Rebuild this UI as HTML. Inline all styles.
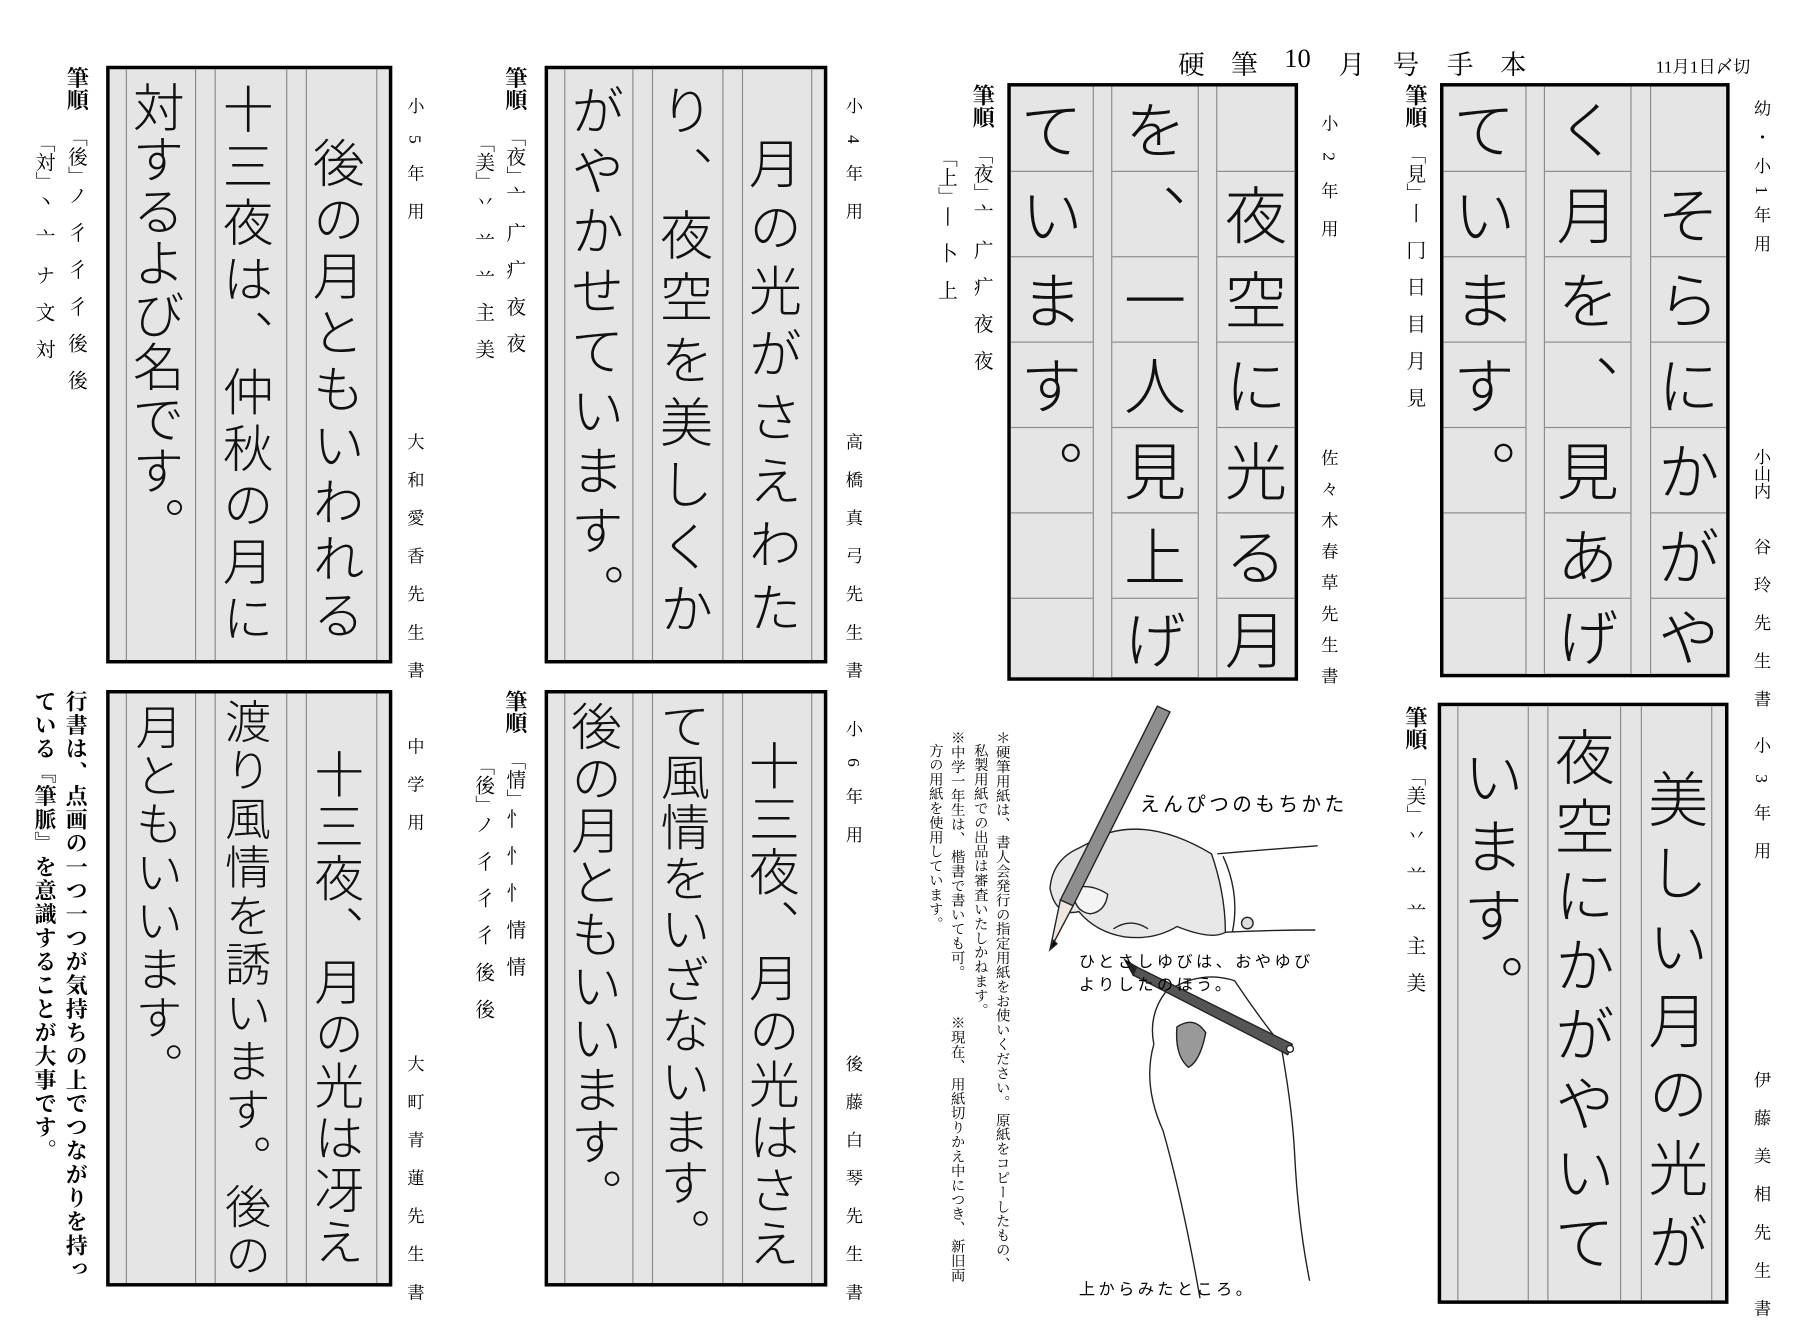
<!DOCTYPE html>
<html><head><meta charset="utf-8">
<style>
html,body{margin:0;padding:0;background:#fff;width:1800px;height:1314px;overflow:hidden}
#c{position:absolute;left:0;top:0;width:1560px;height:1139px;transform-origin:0 0;transform:scale(1.153846);font-family:"Liberation Serif","Noto Serif CJK SC","Noto Sans CJK JP",serif;color:#000}
.box{position:absolute;background:#e5e5e5;border:3px solid #000;box-sizing:border-box}
.vl{position:absolute;top:0;bottom:0;width:0;border-left:1px solid #8a8a8a}
.col{position:absolute;writing-mode:vertical-rl;font-family:"Noto Sans CJK JP","WenQuanYi Zen Hei",sans-serif;font-weight:300;line-height:1;white-space:nowrap;color:#111}
.lab{position:absolute;writing-mode:vertical-rl;font-size:15px;line-height:1;white-space:nowrap;font-family:"Liberation Serif","Noto Serif CJK SC",serif}
.so{position:absolute;writing-mode:vertical-rl;font-size:17px;line-height:1;white-space:nowrap;font-family:"Liberation Serif","Noto Serif CJK SC",serif}
.so b{font-size:19px;display:inline-block;margin-bottom:14px}
.so i{font-style:normal;letter-spacing:15px}
.note{position:absolute;writing-mode:vertical-rl;font-size:12.5px;line-height:1;white-space:nowrap;font-family:"Liberation Serif","Noto Serif CJK SC",serif}
.cell{position:absolute;box-sizing:border-box;border-bottom:1px solid #8a8a8a;display:flex;align-items:center;justify-content:center;font-family:"Noto Sans CJK JP","WenQuanYi Zen Hei",sans-serif;font-weight:300;font-size:54px;writing-mode:vertical-rl;color:#111}
.gap{position:absolute;top:0;bottom:0;background:#e5e5e5;border-left:1px solid #8a8a8a;border-right:1px solid #8a8a8a;box-sizing:border-box}
.hw{position:absolute;font-family:"Noto Sans CJK JP",sans-serif;font-size:16px;letter-spacing:3px;white-space:nowrap}
.h{position:absolute;top:38px;font-size:23px;white-space:nowrap}
</style></head><body><div id="c">

<!-- header -->
<div class="h" style="left:1021px">硬</div>
<div class="h" style="left:1067px">筆</div>
<div class="h" style="left:1113px">10</div>
<div class="h" style="left:1160px">月</div>
<div class="h" style="left:1207px">号</div>
<div class="h" style="left:1254px">手</div>
<div class="h" style="left:1300px">本</div>
<div style="position:absolute;left:1435px;top:47px;font-size:15px;white-space:nowrap">11月1日〆切</div>

<!-- B4 小4 -->
<div class="box" style="left:472px;top:57px;width:245px;height:518px">
 <div class="vl" style="left:14px"></div><div class="vl" style="left:73px"></div><div class="vl" style="left:90px"></div><div class="vl" style="left:151px"></div><div class="vl" style="left:168px"></div><div class="vl" style="left:228px"></div>
 <div class="col" style="left:174px;top:58px;font-size:46px;letter-spacing:9px">月の光がさえわた</div>
 <div class="col" style="left:97px;top:12px;font-size:46px;letter-spacing:8px">り、夜空を美しくか</div>
 <div class="col" style="left:20px;top:12px;font-size:46px;letter-spacing:6px">がやかせています。</div>
</div>
<div class="lab" style="left:731px;top:84px;letter-spacing:18px">小4年用</div>
<div class="lab" style="left:731px;top:375px;letter-spacing:18px">高橋真弓先生書</div>
<div class="so" style="left:436px;top:58px"><b>筆順</b>「夜」<i>亠广疒夜夜</i></div>
<div class="so" style="left:410px;top:115px">「美」<i>丷䒑䒑主美</i></div>

<!-- B5 小5 -->
<div class="box" style="left:92px;top:57px;width:248px;height:518px">
 <div class="vl" style="left:14px"></div><div class="vl" style="left:74px"></div><div class="vl" style="left:91px"></div><div class="vl" style="left:153px"></div><div class="vl" style="left:170px"></div><div class="vl" style="left:231px"></div>
 <div class="col" style="left:176px;top:58px;font-size:45px;letter-spacing:4px">後の月ともいわれる</div>
 <div class="col" style="left:98px;top:12px;font-size:44px;letter-spacing:5px">十三夜は、仲秋の月に</div>
 <div class="col" style="left:20px;top:10px;font-size:45px;letter-spacing:0px">対するよび名です。</div>
</div>
<div class="lab" style="left:351px;top:84px;letter-spacing:18px">小5年用</div>
<div class="lab" style="left:351px;top:375px;letter-spacing:18px">大和愛香先生書</div>
<div class="so" style="left:56px;top:58px"><b>筆順</b>「後」<i>ノ彳彳彳後後</i></div>
<div class="so" style="left:29px;top:115px">「対」<i>丶亠ナ文対</i></div>

<!-- B6 小6 -->
<div class="box" style="left:472px;top:598px;width:245px;height:517px">
 <div class="vl" style="left:14px"></div><div class="vl" style="left:73px"></div><div class="vl" style="left:90px"></div><div class="vl" style="left:151px"></div><div class="vl" style="left:168px"></div><div class="vl" style="left:228px"></div>
 <div class="col" style="left:174px;top:40px;font-size:44px;letter-spacing:2px">十三夜、月の光はさえ</div>
 <div class="col" style="left:97px;top:6px;font-size:43px;letter-spacing:1px">て風情をいざないます。</div>
 <div class="col" style="left:20px;top:6px;font-size:44px;letter-spacing:1px">後の月ともいいます。</div>
</div>
<div class="lab" style="left:731px;top:624px;letter-spacing:18px">小6年用</div>
<div class="lab" style="left:731px;top:914px;letter-spacing:18px">後藤白琴先生書</div>
<div class="so" style="left:436px;top:598px"><b>筆順</b>「情」<i>忄忄忄情情</i></div>
<div class="so" style="left:410px;top:655px">「後」<i>ノ彳彳彳後後</i></div>

<!-- B7 中学 -->
<div class="box" style="left:92px;top:598px;width:248px;height:517px">
 <div class="vl" style="left:14px"></div><div class="vl" style="left:74px"></div><div class="vl" style="left:91px"></div><div class="vl" style="left:153px"></div><div class="vl" style="left:170px"></div><div class="vl" style="left:231px"></div>
 <div class="col" style="left:177px;top:48px;font-size:43px;letter-spacing:2px">十三夜、月の光は冴え</div>
 <div class="col" style="left:100px;top:4px;font-size:40px;letter-spacing:2px">渡り風情を誘います。後の</div>
 <div class="col" style="left:22px;top:8px;font-size:41px;letter-spacing:1px">月ともいいます。</div>
</div>
<div class="lab" style="left:351px;top:639px;letter-spacing:18px">中学用</div>
<div class="lab" style="left:351px;top:914px;letter-spacing:18px">大町青蓮先生書</div>
<div class="so" style="left:55px;top:598px;font-size:19px;font-weight:bold;letter-spacing:1.5px">行書は、点画の一つ一つが気持ちの上でつながりを持っ</div>
<div class="so" style="left:28px;top:598px;font-size:19px;font-weight:bold;letter-spacing:1.5px">ている『筆脈』を意識することが大事です。</div>

<!-- B2 小2 grid -->
<div class="box" style="left:873px;top:72px;width:252px;height:518px">
 <div class="gap" style="left:71px;width:17px"></div>
 <div class="gap" style="left:162px;width:17px"></div>
 <div class="cell" style="left:179px;top:0;width:67px;height:74px"></div>
 <div class="cell" style="left:179px;top:74px;width:67px;height:74px">夜</div>
 <div class="cell" style="left:179px;top:148px;width:67px;height:74px">空</div>
 <div class="cell" style="left:179px;top:222px;width:67px;height:74px">に</div>
 <div class="cell" style="left:179px;top:296px;width:67px;height:74px">光</div>
 <div class="cell" style="left:179px;top:370px;width:67px;height:74px">る</div>
 <div class="cell" style="left:179px;top:444px;width:67px;height:70px;border:0">月</div>
 <div class="cell" style="left:88px;top:0;width:74px;height:74px">を</div>
 <div class="cell" style="left:88px;top:74px;width:74px;height:74px">、</div>
 <div class="cell" style="left:88px;top:148px;width:74px;height:74px">一</div>
 <div class="cell" style="left:88px;top:222px;width:74px;height:74px">人</div>
 <div class="cell" style="left:88px;top:296px;width:74px;height:74px">見</div>
 <div class="cell" style="left:88px;top:370px;width:74px;height:74px">上</div>
 <div class="cell" style="left:88px;top:444px;width:74px;height:70px;border:0">げ</div>
 <div class="cell" style="left:0;top:0;width:71px;height:74px">て</div>
 <div class="cell" style="left:0;top:74px;width:71px;height:74px">い</div>
 <div class="cell" style="left:0;top:148px;width:71px;height:74px">ま</div>
 <div class="cell" style="left:0;top:222px;width:71px;height:74px">す</div>
 <div class="cell" style="left:0;top:296px;width:71px;height:74px">。</div>
 <div class="cell" style="left:0;top:370px;width:71px;height:74px"></div>
 <div class="cell" style="left:0;top:444px;width:71px;height:70px;border:0"></div>
</div>
<div class="lab" style="left:1143px;top:99px;letter-spacing:18px">小2年用</div>
<div class="lab" style="left:1143px;top:389px;letter-spacing:12px">佐々木春草先生書</div>
<div class="so" style="left:841px;top:73px"><b>筆順</b>「夜」<i>亠广疒夜夜</i></div>
<div class="so" style="left:811px;top:128px">「上」<i>丨卜上</i></div>

<!-- B1 小1 grid -->
<div class="box" style="left:1248px;top:72px;width:251px;height:515px">
 <div class="gap" style="left:71px;width:17px"></div>
 <div class="gap" style="left:162px;width:18px"></div>
 <div class="cell" style="left:180px;top:0;width:65px;height:74px"></div>
 <div class="cell" style="left:180px;top:74px;width:65px;height:74px">そ</div>
 <div class="cell" style="left:180px;top:148px;width:65px;height:74px">ら</div>
 <div class="cell" style="left:180px;top:222px;width:65px;height:74px">に</div>
 <div class="cell" style="left:180px;top:296px;width:65px;height:74px">か</div>
 <div class="cell" style="left:180px;top:370px;width:65px;height:74px">が</div>
 <div class="cell" style="left:180px;top:444px;width:65px;height:65px;border:0">や</div>
 <div class="cell" style="left:88px;top:0;width:74px;height:74px">く</div>
 <div class="cell" style="left:88px;top:74px;width:74px;height:74px">月</div>
 <div class="cell" style="left:88px;top:148px;width:74px;height:74px">を</div>
 <div class="cell" style="left:88px;top:222px;width:74px;height:74px">、</div>
 <div class="cell" style="left:88px;top:296px;width:74px;height:74px">見</div>
 <div class="cell" style="left:88px;top:370px;width:74px;height:74px">あ</div>
 <div class="cell" style="left:88px;top:444px;width:74px;height:65px;border:0">げ</div>
 <div class="cell" style="left:0;top:0;width:71px;height:74px">て</div>
 <div class="cell" style="left:0;top:74px;width:71px;height:74px">い</div>
 <div class="cell" style="left:0;top:148px;width:71px;height:74px">ま</div>
 <div class="cell" style="left:0;top:222px;width:71px;height:74px">す</div>
 <div class="cell" style="left:0;top:296px;width:71px;height:74px">。</div>
 <div class="cell" style="left:0;top:370px;width:71px;height:74px"></div>
 <div class="cell" style="left:0;top:444px;width:71px;height:65px;border:0"></div>
</div>
<div class="lab" style="left:1518px;top:86px;letter-spacing:10px">幼・小1年用</div>
<div class="lab" style="left:1518px;top:388px;letter-spacing:0px">小山内<span style="letter-spacing:18px">　谷玲先生書</span></div>
<div class="so" style="left:1216px;top:73px"><b>筆順</b>「見」<i>丨冂日目月見</i></div>

<!-- B3 小3 -->
<div class="box" style="left:1246px;top:609px;width:252px;height:521px">
 <div class="vl" style="left:14px"></div><div class="vl" style="left:75px"></div><div class="vl" style="left:92px"></div><div class="vl" style="left:155px"></div><div class="vl" style="left:173px"></div><div class="vl" style="left:234px"></div>
 <div class="col" style="left:179px;top:54px;font-size:52px;letter-spacing:12px">美しい月の光が</div>
 <div class="col" style="left:98px;top:18px;font-size:52px;letter-spacing:8px">夜空にかがやいて</div>
 <div class="col" style="left:19px;top:35px;font-size:52px;letter-spacing:8px">います。</div>
</div>
<div class="lab" style="left:1518px;top:638px;letter-spacing:18px">小3年用</div>
<div class="lab" style="left:1518px;top:928px;letter-spacing:18px">伊藤美相先生書</div>
<div class="so" style="left:1216px;top:612px"><b>筆順</b>「美」<i>丷䒑䒑主美</i></div>

<!-- notes -->
<div class="note" style="left:862px;top:633px">＊硬筆用紙は、 書人会発行の指定用紙をお使いください。 原紙をコピーしたもの、</div>
<div class="note" style="left:843px;top:644px">私製用紙での出品は審査いたしかねます。</div>
<div class="note" style="left:823px;top:633px">※中学一年生は、 楷書で書いても可。</div>
<div class="note" style="left:823px;top:880px">※現在、 用紙切りかえ中につき、 新旧両</div>
<div class="note" style="left:804px;top:644px">方の用紙を使用しています。</div>

<!-- illustrations -->
<svg style="position:absolute;left:0;top:0" width="1560" height="1139" viewBox="0 0 1560 1139">
 <g stroke="#222" stroke-width="1.2" fill="none">
  <path d="M1055 740 Q1100 736 1142 733"/>
  <path d="M1060 808 Q1100 806 1140 806"/>
  <path d="M1060 742 Q1075 775 1068 808" fill="#fff"/>
  <circle cx="1081" cy="800" r="5" fill="#ddd"/>
  <path d="M960 722 Q1000 710 1050 740 Q1062 775 1062 808 Q1050 815 1020 803 Q1000 815 975 812 Q950 808 935 790 Q915 795 910 770 Q912 745 935 735 Z" fill="#e8e8e8"/>
  <path d="M930 770 Q945 765 960 775 Q958 790 945 792 Q930 790 930 770 Z" fill="#f4f4f4"/>
  <path d="M965 805 Q980 795 995 805"/>
  <path d="M1003 612 L1014 617 L930 785 L919 780 Z" fill="#8e8e8e"/>
  <path d="M919 780 L930 785 L910 823 Z" fill="#f0e8e0"/>
  <path d="M913 815 L910 823 L916 818 Z" fill="#000"/>
  <path d="M1000 905 Q995 880 1010 860 Q1040 840 1070 850 Q1090 880 1110 905 Q1120 960 1122 1000 Q1125 1060 1135 1110"/>
  <path d="M1000 905 Q990 940 1008 980 Q1025 1040 1040 1125"/>
  <path d="M1020 890 Q1035 880 1045 895 Q1040 920 1030 925 Q1018 915 1020 890 Z" fill="#999"/>
  <path d="M985 838 L1120 905 L1116 914 L982 845 Z" fill="#555"/>
  <path d="M975 832 L985 838 L982 845 Z" fill="#222"/>
  <circle cx="1118" cy="909" r="3" fill="#fff"/>
 </g>
</svg>
<div class="hw" style="left:988px;top:683px;font-size:17px">えんぴつのもちかた</div>
<div class="hw" style="left:935px;top:823px;font-size:14px">ひとさしゆびは、おやゆび</div>
<div class="hw" style="left:935px;top:843px;font-size:14px">よりしたのほう。</div>
<div class="hw" style="left:935px;top:1107px;font-size:14px">上からみたところ。</div>

</div></body></html>
